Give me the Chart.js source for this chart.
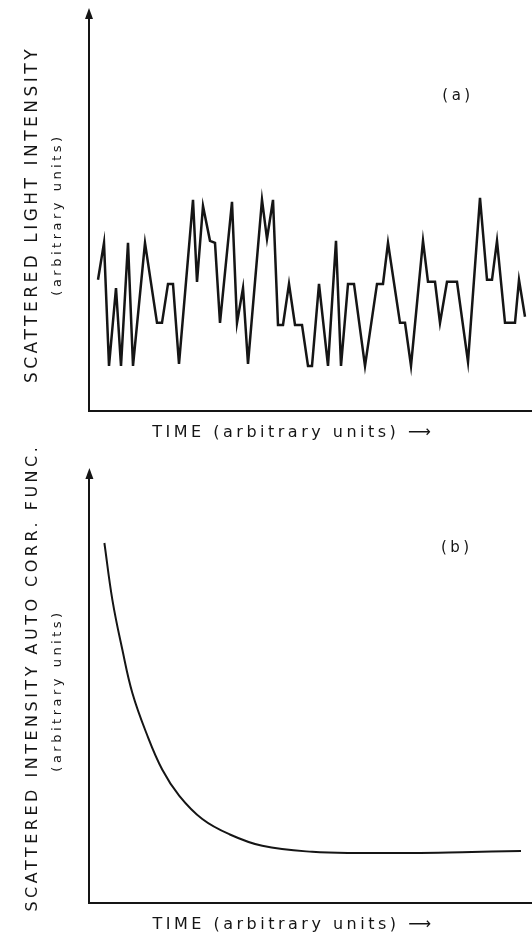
<!DOCTYPE html>
<html>
<head>
<meta charset="utf-8">
<script src="https://cdn.jsdelivr.net/npm/chart.js@4.4.1/dist/chart.umd.min.js"></script>
<style>
  body { margin: 0; background: #fff; }
  .panel { position: absolute; left: 0; }
</style>
</head>
<body>
<div class="panel" style="top:0"><canvas id="chartA" width="532" height="460"></canvas></div>
<div class="panel" style="top:430px"><canvas id="chartB" width="532" height="507"></canvas></div>
<script>
// panel (a): scattered light intensity vs time
const timeA = [9, 15, 20, 27, 32, 39, 44, 56, 68, 73, 79, 84, 90, 104, 108, 114, 121, 126, 131, 143,
  148, 154, 159, 173, 178, 184, 189, 194, 200, 206, 213, 219, 223, 230, 239, 247, 252, 259, 265, 276,
  288, 294, 299, 311, 316, 322, 334, 339, 346, 351, 358, 368, 379, 391, 398, 403, 408, 416, 426, 430, 436];
const intensityA = [3.2, 4.1, 1.1, 3.0, 1.1, 4.1, 1.1, 4.1, 2.15, 2.15, 3.1, 3.1, 1.15, 5.15, 3.15, 5.0, 4.15, 4.1, 2.15, 5.1,
  2.15, 3.0, 1.15, 5.15, 4.2, 5.15, 2.1, 2.1, 3.1, 2.1, 2.1, 1.1, 1.1, 3.1, 1.1, 4.15, 1.1, 3.1, 3.1, 1.1,
  3.1, 3.1, 4.1, 2.15, 2.15, 1.1, 4.15, 3.15, 3.15, 2.15, 3.15, 3.15, 1.2, 5.2, 3.2, 3.2, 4.15, 2.15, 2.15, 3.2, 2.3];

// panel (b): intensity auto-correlation function vs time
const timeB = [15, 23, 33, 43, 57, 73, 90, 113, 140, 173, 223, 273, 323, 373, 432];
const corrB = [9.0, 7.58, 6.33, 5.25, 4.25, 3.33, 2.68, 2.1, 1.72, 1.43, 1.28, 1.25, 1.25, 1.27, 1.3];

const yTitleA = 'SCATTERED LIGHT INTENSITY';
// leading spaces push the long label a little toward the top, as in the figure
const yTitleB = '\u00A0\u00A0\u00A0SCATTERED INTENSITY AUTO CORR. FUNC.';
const unitsTitle = '(arbitrary units)';
const xTitle = 'TIME (arbitrary units) \u27F6\u00A0\u00A0\u00A0\u00A0';

const INK = '#151515';
const FONT = '"DejaVu Sans", sans-serif';

// arrow heads on the y axis, panel tag and the wide lettering
const axisArrows = {
    id: 'axisArrows',
    beforeDraw(chart) {
        chart.ctx.letterSpacing = '3.5px';
    },
    afterDraw(chart, args, opts) {
        const {ctx, chartArea} = chart;
        ctx.save();
        ctx.fillStyle = INK;
        ctx.beginPath();
        ctx.moveTo(chartArea.left, chartArea.top - 10);
        ctx.lineTo(chartArea.left - 4, chartArea.top + 1);
        ctx.lineTo(chartArea.left + 4, chartArea.top + 1);
        ctx.closePath();
        ctx.fill();

        ctx.font = '15px ' + FONT;
        ctx.textAlign = 'center';
        ctx.textBaseline = 'middle';
        const tx = chartArea.left + opts.tagX * (chartArea.right - chartArea.left);
        const ty = chartArea.top + opts.tagY * (chartArea.bottom - chartArea.top);
        ctx.fillText(opts.tag, tx, ty);
        ctx.restore();
    }
};

function makeOptions(padTop, yMax, tag, tagX, tagY, yPadBottom, xPad) {
    return {
        responsive: false,
        animation: false,
        layout: { padding: { top: padTop, left: 0, right: 0, bottom: 0 } },
        plugins: {
            legend: { display: false },
            tooltip: { enabled: false },
            axisArrows: { tag: tag, tagX: tagX, tagY: tagY }
        },
        scales: {
            x: {
                type: 'linear',
                min: 0,
                max: 443,
                ticks: { display: false },
                grid: { display: false, drawTicks: false },
                border: { display: true, color: INK, width: 2 },
                title: {
                    display: true,
                    text: xTitle,
                    color: INK,
                    font: { family: FONT, size: 16 },
                    padding: xPad
                }
            },
            y: {
                min: 0,
                max: yMax,
                weight: 0,
                ticks: { display: false },
                grid: { display: false, drawTicks: false },
                border: { display: true, color: INK, width: 2 },
                title: {
                    display: true,
                    text: unitsTitle,
                    color: INK,
                    font: { family: FONT, size: 13 },
                    padding: { top: 7, bottom: yPadBottom }
                }
            }
        }
    };
}

function addMainTitle(options, text, size, padTop) {
    options.scales.yMain = {
        type: 'linear',
        position: 'left',
        display: true,
        weight: 1,
        ticks: { display: false },
        grid: { display: false, drawTicks: false },
        border: { display: false },
        title: {
            display: true,
            text: text,
            color: INK,
            font: { family: FONT, size: size },
            padding: { top: padTop, bottom: 0 }
        }
    };
    return options;
}

new Chart(document.getElementById('chartA'), {
    type: 'line',
    data: {
        datasets: [{
            data: timeA.map((t, i) => ({ x: t, y: intensityA[i] })),
            borderColor: INK,
            borderWidth: 2.5,
            borderJoinStyle: 'miter',
            pointRadius: 0,
            tension: 0
        }]
    },
    options: addMainTitle(makeOptions(18, 9.585, '(a)', 0.833, 0.2, 23.2, { top: 12.4, bottom: 17.4 }), yTitleA, 17, 22.8),
    plugins: [axisArrows]
});

// canvas b starts 30px higher so its long y label is not clipped
new Chart(document.getElementById('chartB'), {
    type: 'line',
    data: {
        datasets: [{
            data: timeB.map((t, i) => ({ x: t, y: corrB[i] })),
            borderColor: INK,
            borderWidth: 2,
            pointRadius: 0,
            tension: 0.4
        }]
    },
    options: addMainTitle(makeOptions(48, 10.625, '(b)', 0.83, 0.165, 24.2, { top: 12.4, bottom: 2.4 }), yTitleB, 16, 23.4),
    plugins: [axisArrows]
});
</script>
</body>
</html>
